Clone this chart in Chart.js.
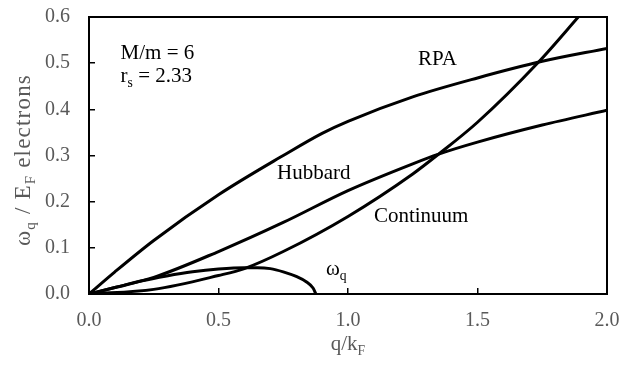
<!DOCTYPE html>
<html>
<head>
<meta charset="utf-8">
<script src="https://cdn.jsdelivr.net/npm/chart.js@4/dist/chart.umd.min.js"></script>
<style>
  html, body { margin: 0; padding: 0; background: #fff; }
</style>
</head>
<body>
<canvas id="chart" width="631" height="366"></canvas>
<script>
// Plasmon dispersion, energies in units of E_F against q/k_F
const rpaQ = [0, 0.1, 0.25, 0.5, 0.75, 0.9, 1.0, 1.25, 1.5, 1.75, 2.0];
const rpaW = [0, 0.048, 0.116, 0.215, 0.3, 0.348, 0.374, 0.427, 0.468, 0.504, 0.532];

const hubbardQ = [0, 0.1, 0.25, 0.5, 0.75, 1.0, 1.25, 1.35, 1.5, 1.75, 2.0];
const hubbardW = [0, 0.014, 0.036, 0.092, 0.155, 0.224, 0.282, 0.303, 0.329, 0.366, 0.398];

const continuumQ = [0, 0.25, 0.5, 0.6, 0.75, 1.0, 1.25, 1.35, 1.5, 1.735, 1.9];
const continuumW = [0, 0.01, 0.04, 0.055, 0.092, 0.168, 0.26, 0.303, 0.372, 0.502, 0.607];

const omegaQ = [0, 0.1, 0.2, 0.3, 0.4, 0.5, 0.6, 0.65, 0.7, 0.75, 0.8, 0.84, 0.865, 0.876];
const omegaW = [0, 0.014, 0.028, 0.039, 0.048, 0.054, 0.057, 0.057, 0.055, 0.048, 0.038, 0.026, 0.013, 0];

const xMin = 0, xMax = 2, xStep = 0.5;
const yMin = 0, yMax = 0.6, yStep = 0.1;

const SERIF = "'Liberation Serif', 'Times New Roman', serif";
const GREY = '#595959';

// text pieces: [string, isSubscript]; anchors are in data units
const notes = [
  { x: 0.122, y: 0.509, parts: [['M/m = 6', false]] },
  { x: 0.122, y: 0.459, parts: [['r', false], ['s', true], [' = 2.33', false]] },
  { x: 1.27, y: 0.496, parts: [['RPA', false]] },
  { x: 0.726, y: 0.249, parts: [['Hubbard', false]] },
  { x: 1.10, y: 0.156, parts: [['Continuum', false]] },
  { x: 0.915, y: 0.041, parts: [['\u03c9', false], ['q', true]] }
];

function makeCurve(qs, ws) {
  return {
    data: qs.map((q, i) => ({ x: q, y: ws[i] })),
    borderColor: '#000',
    borderWidth: 3,
    pointRadius: 0,
    fill: false,
    cubicInterpolationMode: 'monotone'
  };
}

function richWidth(ctx, parts, size) {
  let w = 0;
  parts.forEach(([t, sub]) => {
    ctx.font = (sub ? size * 0.65 : size) + 'px ' + SERIF;
    w += ctx.measureText(t).width;
  });
  return w;
}

// draws a run of text with subscripts, starting at x on baseline y
function drawRich(ctx, parts, x, y, size) {
  let cx = x;
  parts.forEach(([t, sub]) => {
    ctx.font = (sub ? size * 0.65 : size) + 'px ' + SERIF;
    ctx.fillText(t, cx, sub ? y + size * 0.22 : y);
    cx += ctx.measureText(t).width;
  });
}

const decorations = {
  id: 'decorations',
  afterDraw(chart) {
    const { ctx, chartArea: a, scales } = chart;
    ctx.save();

    // frame around the plot area
    ctx.strokeStyle = '#000';
    ctx.lineWidth = 2;
    ctx.strokeRect(a.left, a.top, a.right - a.left, a.bottom - a.top);

    // curve labels
    ctx.fillStyle = '#000';
    ctx.textAlign = 'left';
    ctx.textBaseline = 'alphabetic';
    notes.forEach(n => {
      drawRich(ctx, n.parts, scales.x.getPixelForValue(n.x), scales.y.getPixelForValue(n.y), 21);
    });

    // axis titles
    ctx.fillStyle = GREY;
    const xTitle = [['q/k', false], ['F', true]];
    const xw = richWidth(ctx, xTitle, 21);
    drawRich(ctx, xTitle, (a.left + a.right) / 2 - xw / 2, 350, 21);

    const yTitle = [['\u03c9', false], ['q', true], [' / E', false], ['F', true], [' electrons', false]];
    ctx.letterSpacing = '1.2px';
    const yw = richWidth(ctx, yTitle, 23);
    ctx.translate(30, 160);
    ctx.rotate(-Math.PI / 2);
    drawRich(ctx, yTitle, -yw / 2, 0, 23);

    ctx.restore();
  }
};

const tickFont = { family: SERIF, size: 20 };

// fixed axis band sizes so the plot area sits at 89..607 x 17..294
function noPad(s) {
  s.paddingTop = 0; s.paddingBottom = 0; s.paddingLeft = 0; s.paddingRight = 0;
}

new Chart(document.getElementById('chart'), {
  type: 'line',
  data: {
    datasets: [
      makeCurve(rpaQ, rpaW),
      makeCurve(hubbardQ, hubbardW),
      makeCurve(continuumQ, continuumW),
      makeCurve(omegaQ, omegaW)
    ]
  },
  options: {
    responsive: false,
    animation: false,
    layout: { padding: { top: 17, right: 24, left: 0, bottom: 0 } },
    plugins: { legend: { display: false }, tooltip: { enabled: false } },
    scales: {
      x: {
        type: 'linear',
        min: xMin, max: xMax,
        afterFit: s => { s.height = 72; noPad(s); },
        border: { display: false },
        grid: { drawOnChartArea: false, tickLength: -6, color: '#000', lineWidth: 1.5 },
        ticks: { stepSize: xStep, color: GREY, font: tickFont, padding: 21, callback: v => v.toFixed(1) }
      },
      y: {
        type: 'linear',
        min: yMin, max: yMax,
        afterFit: s => { s.width = 89; noPad(s); },
        border: { display: false },
        grid: { drawOnChartArea: false, tickLength: -6, color: '#000', lineWidth: 1.5 },
        ticks: { stepSize: yStep, color: GREY, font: tickFont, padding: 25, callback: v => v.toFixed(1) }
      }
    }
  },
  plugins: [decorations]
});
</script>
</body>
</html>
